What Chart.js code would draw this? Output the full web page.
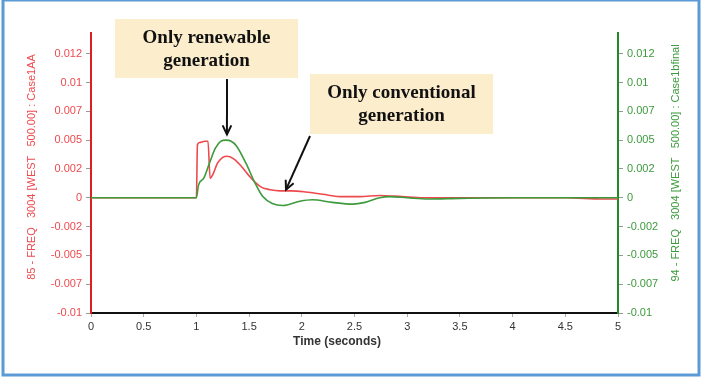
<!DOCTYPE html>
<html>
<head>
<meta charset="utf-8">
<script src="https://cdn.jsdelivr.net/npm/chart.js@4/dist/chart.umd.min.js"></script>
<style>
  html, body { margin: 0; padding: 0; background: #ffffff; }
  #wrap { width: 701px; height: 380px; position: relative; }
</style>
</head>
<body>
<div id="wrap"><canvas id="c" width="701" height="380"></canvas></div>
<script>
// ---- data ----
const redTime   = [0, 1.0, 1.01, 1.03, 1.08, 1.11, 1.13, 1.16, 1.20, 1.25, 1.29, 1.35, 1.42, 1.50, 1.55, 1.62, 1.70, 1.79, 1.90, 2.04, 2.20, 2.36, 2.55, 2.74, 2.95, 3.15, 3.5, 4.0, 4.5, 4.85, 5.0];
const redValues = [0, 0,   0.0046, 0.0048, 0.0049, 0.0049, 0.0017, 0.0021, 0.0030, 0.0035, 0.0036, 0.0034, 0.0028, 0.0019, 0.0014, 0.0009, 0.0007, 0.0006, 0.0006, 0.0005, 0.0003, 0.0001, 0.0001, 0.0002, 0.0001, 0.0, 0.0, 0.0, 0.0, -0.0001, -0.0001];

const greenTime   = [0, 1.0, 1.02, 1.07, 1.12, 1.18, 1.23, 1.28, 1.33, 1.38, 1.47, 1.55, 1.63, 1.72, 1.82, 1.98, 2.10, 2.29, 2.48, 2.60, 2.74, 2.83, 3.0, 3.2, 3.5, 4.0, 4.5, 5.0];
const greenValues = [0, 0,   0.0011, 0.0017, 0.0029, 0.0043, 0.0049, 0.0050, 0.0049, 0.0045, 0.0030, 0.0014, 0.0001, -0.0005, -0.00067, -0.0003, -0.00017, -0.0004, -0.00055, -0.0004, 0.0, 0.0001, 0.0, -0.0001, -0.00005, 0.0, 0.0, 0.0];

const xTickValues = [0, 0.5, 1, 1.5, 2, 2.5, 3, 3.5, 4, 4.5, 5];
const xTickLabels = ['0', '0.5', '1', '1.5', '2', '2.5', '3', '3.5', '4', '4.5', '5'];
const yTickValues = [-0.01, -0.0075, -0.005, -0.0025, 0, 0.0025, 0.005, 0.0075, 0.01, 0.0125];
const yTickLabels = ['-0.01', '-0.007', '-0.005', '-0.002', '0', '0.002', '0.005', '0.007', '0.01', '0.012'];

const leftTitle  = '85 - FREQ   3004 [WEST   500.00] : Case1AA';
const rightTitle = '94 - FREQ   3004 [WEST   500.00] : Case1bfinal';
const xTitle = 'Time (seconds)';

const notes = [
  { lines: ['Only renewable', 'generation'], box: [115, 19, 183, 59], from: [227, 79], to: { t: 1.29, v: 0.0055 } },
  { lines: ['Only conventional', 'generation'], box: [310, 74, 183, 60], from: [310, 136], to: { t: 1.85, v: 0.0007 } }
];

// ---- colours ----
const RED = '#ee4a4e';
const RED_AXIS = '#dd1f1f';
const GREEN = '#3d9a3d';
const GREEN_AXIS = '#1f8a1f';

function pts(ts, vs) { return ts.map((t, i) => ({ x: t, y: vs[i] })); }

const decorPlugin = {
  id: 'decor',
  afterDraw(chart) {
    const ctx = chart.ctx;
    const xs = chart.scales.x, ys = chart.scales.yL;
    ctx.save();
    // frame
    ctx.strokeStyle = '#5b9bd5';
    ctx.lineWidth = 3;
    ctx.strokeRect(3, 0, 696, 375);

    // axis titles
    ctx.font = '11px "Liberation Sans", Arial, sans-serif';
    ctx.textAlign = 'center';
    ctx.textBaseline = 'middle';
    ctx.fillStyle = RED;
    ctx.save(); ctx.translate(32, 167); ctx.rotate(-Math.PI / 2); ctx.fillText(leftTitle, 0, 0); ctx.restore();
    ctx.fillStyle = GREEN;
    ctx.save(); ctx.translate(676, 163); ctx.rotate(-Math.PI / 2); ctx.fillText(rightTitle, 0, 0); ctx.restore();
    ctx.fillStyle = '#333333';
    ctx.font = 'bold 12px "Liberation Sans", Arial, sans-serif';
    ctx.fillText(xTitle, 337, 342);

    // annotations
    notes.forEach(n => {
      const [bx, by, bw, bh] = n.box;
      ctx.fillStyle = '#fcedcd';
      ctx.fillRect(bx, by, bw, bh);
      ctx.fillStyle = '#111111';
      ctx.font = 'bold 19px "Liberation Serif", "Times New Roman", serif';
      ctx.textAlign = 'center';
      ctx.textBaseline = 'middle';
      ctx.fillText(n.lines[0], bx + bw / 2, by + 19);
      ctx.fillText(n.lines[1], bx + bw / 2, by + 42);
      const x1 = n.from[0], y1 = n.from[1];
      const x2 = xs.getPixelForValue(n.to.t), y2 = ys.getPixelForValue(n.to.v);
      ctx.strokeStyle = '#111111';
      ctx.lineWidth = 2;
      ctx.beginPath(); ctx.moveTo(x1, y1); ctx.lineTo(x2, y2); ctx.stroke();
      const a = Math.atan2(y2 - y1, x2 - x1), L = 10, s = 0.45;
      ctx.beginPath();
      ctx.moveTo(x2 - L * Math.cos(a - s), y2 - L * Math.sin(a - s));
      ctx.lineTo(x2, y2);
      ctx.lineTo(x2 - L * Math.cos(a + s), y2 - L * Math.sin(a + s));
      ctx.stroke();
    });
    ctx.restore();
  }
};

const yCommon = (color, axisColor, pos, w) => ({
  type: 'linear',
  position: pos,
  min: -0.01,
  max: 0.0143,
  afterBuildTicks: s => { s.ticks = yTickValues.map(v => ({ value: v })); },
  afterFit: s => { s.width = w; },
  border: { display: true, color: axisColor, width: 2 },
  grid: { display: true, drawOnChartArea: false, drawTicks: true, tickLength: 5, color: '#999999' },
  ticks: {
    color: color,
    padding: 4,
    font: { family: '"Liberation Sans", Arial, sans-serif', size: 11 },
    callback: (v) => { const i = yTickValues.findIndex(t => Math.abs(t - v) < 1e-9); return i >= 0 ? yTickLabels[i] : ''; }
  }
});

new Chart(document.getElementById('c'), {
  type: 'line',
  data: {
    datasets: [
      { label: 'Case1AA', data: pts(redTime, redValues), yAxisID: 'yL', borderColor: RED, borderWidth: 1.6, pointRadius: 0, cubicInterpolationMode: 'monotone', order: 2 },
      { label: 'Case1bfinal', data: pts(greenTime, greenValues), yAxisID: 'yR', borderColor: GREEN, borderWidth: 1.6, pointRadius: 0, cubicInterpolationMode: 'monotone', order: 1 }
    ]
  },
  options: {
    responsive: false,
    animation: false,
    layout: { padding: { top: 33, left: 0, right: 0, bottom: 0 } },
    plugins: { legend: { display: false }, tooltip: { enabled: false } },
    scales: {
      x: {
        type: 'linear',
        min: 0, max: 5,
        afterBuildTicks: s => { s.ticks = xTickValues.map(v => ({ value: v })); },
        afterFit: s => { s.height = 67; },
        border: { display: true, color: '#111111', width: 2 },
        grid: { display: true, drawOnChartArea: false, tickLength: 4, color: '#aaaaaa' },
        ticks: {
          color: '#333333', padding: 3, maxRotation: 0,
          font: { family: '"Liberation Sans", Arial, sans-serif', size: 11 },
          callback: (v) => { const i = xTickValues.findIndex(t => Math.abs(t - v) < 1e-9); return i >= 0 ? xTickLabels[i] : ''; }
        }
      },
      yL: yCommon(RED, RED_AXIS, 'left', 91),
      yR: yCommon(GREEN, GREEN_AXIS, 'right', 83)
    }
  },
  plugins: [decorPlugin]
});
</script>
</body>
</html>
